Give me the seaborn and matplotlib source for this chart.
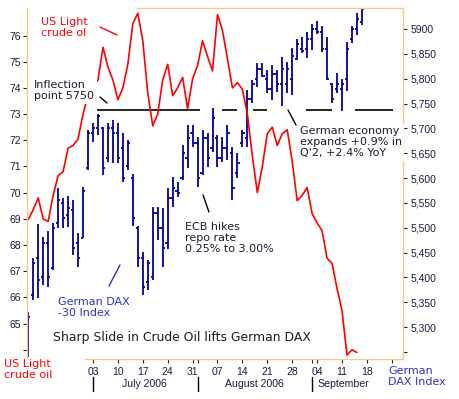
import numpy as np
import pandas as pd
import seaborn as sns
import matplotlib.pyplot as plt
import matplotlib.transforms as mtransforms
from matplotlib.lines import Line2D

# trading days on the x axis, 14 Jun 2006 .. 29 Sep 2006
axis_days = pd.bdate_range("2006-06-14", "2006-09-29")

# US light crude, $ (14 Jun .. 14 Sep)
oil = [68.97, 69.35, 69.8, 69.0, 68.9, 69.9, 70.65, 70.8, 71.7, 71.8, 72.05, 73.0, 73.7,
       74.1, 74.3, 75.55, 74.8, 74.3, 73.55, 74.0, 74.9, 76.45, 76.85, 75.8, 73.8, 72.55,
       73.0, 74.3, 74.9, 73.7, 74.0, 74.4, 73.2, 74.35, 74.85, 75.8, 75.2, 74.65, 76.8, 76.2,
       75.1, 74.0, 74.2, 73.95, 73.0, 71.4, 70.0, 71.0, 72.25, 72.5, 71.8, 72.25, 72.4, 71.2,
       69.7, 69.9, 70.2, 69.2, 68.85, 68.55, 67.5, 67.3, 66.35, 65.5, 63.8, 64.0, 63.9]

# German DAX-30 daily bars (14 Jun .. 15 Sep)
dax_high = [5330, 5439, 5508, 5481, 5493, 5510, 5580, 5560, 5564, 5556, 5489, 5582, 5697,
            5711, 5729, 5703, 5711, 5717, 5711, 5691, 5677, 5608, 5504, 5451, 5435, 5542,
            5542, 5540, 5580, 5602, 5592, 5667, 5707, 5707, 5683, 5697, 5691, 5741, 5687, 5683,
            5707, 5663, 5650, 5697, 5777, 5797, 5832, 5832, 5817, 5828, 5817, 5844, 5834, 5862,
            5880, 5884, 5894, 5910, 5916, 5906, 5884, 5791, 5811, 5799, 5874, 5906, 5932, 5944]
dax_low = [5240, 5355, 5359, 5385, 5381, 5415, 5500, 5500, 5502, 5445, 5421, 5479, 5616,
           5673, 5687, 5606, 5632, 5630, 5630, 5592, 5616, 5504, 5421, 5365, 5375, 5395,
           5475, 5421, 5457, 5542, 5562, 5596, 5620, 5663, 5582, 5606, 5622, 5652, 5622, 5632,
           5636, 5556, 5600, 5663, 5663, 5751, 5783, 5803, 5771, 5757, 5773, 5745, 5771, 5767,
           5838, 5852, 5842, 5858, 5890, 5854, 5797, 5751, 5771, 5735, 5775, 5872, 5888, 5908]
dax_open = [5300, 5365, 5440, 5400, 5470, 5420, 5510, 5550, 5525, 5535, 5470, 5480, 5620,
            5690, 5700, 5700, 5640, 5700, 5690, 5660, 5625, 5600, 5500, 5440, 5390, 5400,
            5530, 5500, 5470, 5560, 5575, 5600, 5640, 5690, 5670, 5610, 5680, 5660, 5680, 5640,
            5660, 5650, 5610, 5670, 5680, 5760, 5800, 5820, 5800, 5780, 5810, 5790, 5790, 5800,
            5840, 5860, 5860, 5880, 5900, 5895, 5860, 5790, 5780, 5780, 5800, 5880, 5900, 5915]
dax_close = [5320, 5430, 5395, 5470, 5400, 5500, 5555, 5520, 5540, 5460, 5440, 5575, 5690,
             5700, 5725, 5620, 5700, 5690, 5640, 5600, 5670, 5520, 5440, 5380, 5430, 5530,
             5500, 5460, 5560, 5580, 5570, 5650, 5680, 5670, 5600, 5680, 5640, 5720, 5640, 5660,
             5690, 5580, 5630, 5690, 5760, 5790, 5820, 5805, 5780, 5810, 5790, 5820, 5820, 5845,
             5870, 5855, 5880, 5900, 5895, 5860, 5800, 5760, 5790, 5790, 5860, 5900, 5920, 5940]

inflection = 5738
week_labels = ["03", "10", "17", "24", "31", "07", "14", "21", "28", "04", "11", "18", ""]
month_labels = ["July 2006", "August 2006", "September"]
month_centers = [23.3, 45.4, 63.2]
oil_ticks = list(range(64, 77))
oil_labels = [""] + [str(v) for v in oil_ticks[1:]]
dax_ticks = list(range(5250, 5901, 50))
dax_labels = [""] + [f"{v:,}" for v in dax_ticks[1:-1]] + ["5900"]

RED = "#ff0000"
NAVY = "#000099"
EDGE = "#f9c78b"
INK = "#1a1a2e"
TICKC = "#1a1a40"
BLUE = "#3030c8"

sns.set_theme(style="white")
plt.rcParams["font.family"] = ["DejaVu Sans"]

W, H = 459, 399
fig = plt.figure(figsize=(W / 100, H / 100), dpi=100)
ax = fig.add_axes([27 / W, 1 - 359 / H, 376 / W, 351 / H])
ax2 = ax.twinx()

x = np.arange(len(dax_high))
ax2.vlines(x, dax_low, dax_high, color=NAVY, lw=1.3)
ax2.hlines(dax_open, x - 0.45, x, color=NAVY, lw=1.3)
ax2.hlines(dax_close, x, x + 0.45, color=NAVY, lw=1.3)
# inflection line, broken
seg0 = [13.8, 38.9, 45.1, 55.8, 65.6]
seg1 = [34.5, 41.9, 47.9, 61.0, 73.2]
ax2.hlines([inflection] * len(seg0), seg0, seg1, color="black", lw=1.2)

oil_df = pd.DataFrame({"day": x[:len(oil)], "oil": oil})
sns.lineplot(data=oil_df, x="day", y="oil", color=RED, lw=1.2, ax=ax)

ax.set_zorder(ax2.get_zorder() + 1)
ax.patch.set_visible(False)

ax.set_xlim(-0.25, 75.25)
ax.set_ylim(63.65, 77.05)
ax2.set_ylim(5236, 5942.3)
ax.set_xlabel("")
ax.set_ylabel("")

# x ticks: Mondays from 3 July, plus month starts
mondays = [i for i, d in enumerate(axis_days) if d.weekday() == 0 and d >= pd.Timestamp("2006-07-03")]
month_starts = [i for i in range(1, len(axis_days)) if axis_days[i].month != axis_days[i - 1].month]
ax.set_xticks(mondays, week_labels)
ax.set_xticks(month_starts, minor=True)
ax.set_yticks(oil_ticks, oil_labels)
ax2.set_yticks(dax_ticks, dax_labels)

tickfont = "Liberation Sans"
ax.tick_params(axis="x", which="both", bottom=True, direction="out", length=3, width=0.8,
               color="#222222", pad=3, labelsize=7.5, labelcolor=TICKC)
ax.tick_params(axis="y", left=True, direction="out", length=3, width=0.8,
               color="#222222", pad=1.5, labelsize=7.5, labelcolor=TICKC)
ax2.tick_params(axis="y", right=True, left=False, direction="out", length=3, width=0.8,
                color="#222222", pad=2.5, labelsize=7.5, labelcolor=TICKC)
for lab in ax.get_xticklabels() + ax.get_yticklabels() + ax2.get_yticklabels():
    lab.set_family(tickfont)

for s in ["left", "top", "bottom"]:
    ax.spines[s].set_color(EDGE)
    ax.spines[s].set_linewidth(1.0)
ax.spines["right"].set_visible(False)
ax.spines["top"].set_bounds(21.8, 75.25)
ax.spines["bottom"].set_bounds(11.4, 75.25)
for s in ["left", "top", "bottom"]:
    ax2.spines[s].set_visible(False)
ax2.spines["right"].set_color(EDGE)
ax2.spines["right"].set_linewidth(1.0)

# month separators and names under the axis
trans = mtransforms.blended_transform_factory(ax.transData, fig.transFigure)
for m in [mondays[0]] + month_starts[1:]:
    ax.plot([m, m], [1 - 377 / H, 1 - 391 / H], transform=trans, clip_on=False,
            color="black", lw=1.0)
for c, lab in zip(month_centers, month_labels):
    ax.text(c, 1 - 379 / H, lab, transform=trans, ha="center", va="top",
            fontsize=7.6, family=tickfont, color=TICKC)


def fp(px, py):
    return px / W, 1 - py / H


def note(px, py, s, color=INK, size=8, box=None, **kw):
    fig.text(*fp(px, py), s, ha="left", va="top", fontsize=size, color=color,
             linespacing=1.15, bbox=box, **kw)


def stroke(p0, p1, color):
    fig.add_artist(Line2D([p0[0] / W, p1[0] / W], [1 - p0[1] / H, 1 - p1[1] / H],
                          transform=fig.transFigure, color=color, lw=1.0))


white = dict(facecolor="white", edgecolor="none", pad=2)
note(41, 17, "US Light\ncrude ol", color=RED)
note(34, 80, "Inflection\npoint 5750", box=white)
note(185, 222, "ECB hikes\nrepo rate\n0.25% to 3.00%")
note(300, 126, "German economy\nexpands +0.9% in\nQ'2, +2.4% YoY", box=dict(facecolor="white", edgecolor="none", pad=1.5))
note(58, 297, "German DAX\n-30 Index", color=BLUE)
note(53, 331, "Sharp Slide in Crude Oil lifts German DAX", size=8.9)
note(4, 359, "US Light\ncrude oil", color=RED)
note(388, 366, "German\nDAX Index", color=BLUE)

stroke((100, 27), (117, 35), RED)
stroke((100, 97), (107, 103), "black")
stroke((203, 195), (209, 212), "black")
stroke((288, 110), (296, 125), "black")
stroke((109, 286), (120, 265), BLUE)

fig.savefig("out.png", dpi=100)
